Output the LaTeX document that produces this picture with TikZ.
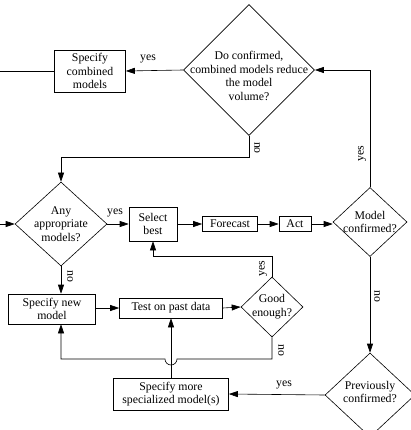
\documentclass[tikz,border=0pt]{standalone}
\usepackage{fontspec}
\setmainfont{Liberation Serif}
\usetikzlibrary{arrows.meta, positioning, shapes.geometric}
\tikzset{
	process/.style={rectangle, draw, line width=0.6pt, align=center, inner sep=0pt},
	decision/.style={diamond, draw, line width=0.6pt, inner sep=0pt},
	qtext/.style={align=center, inner sep=0pt},
	tag/.style={inner sep=0pt},
	arrow/.style={-{Triangle[length=9pt, width=6pt]}, line width=0.6pt},
	link/.style={line width=0.6pt},
}

\begin{document}
\begin{tikzpicture}[x=1pt, y=-1pt, font=\fontsize{11.8}{13.8}\selectfont]
		\useasboundingbox (0,0) rectangle (411,430);
		\clip (0,0) rectangle (411,430);
		% boxes
		\node[process, minimum width=71pt, minimum height=42pt] (combined) at (90,71) {Specify\\combined\\models};
		\node[process, minimum width=48pt, minimum height=34pt] (best) at (153,224) {Select\\best};
		\node[process, minimum width=55pt, minimum height=15pt] (forecast) at (230,224) {Forecast};
		\node[process, minimum width=32pt, minimum height=15pt] (act) at (295,224) {Act};
		\node[process, minimum width=87pt, minimum height=30pt] (newmodel) at (52,309) {Specify new\\model};
		\node[process, minimum width=103pt, minimum height=20pt] (test) at (171,308) {Test on past data};
		\node[process, minimum width=115pt, minimum height=32pt] (special) at (171,394) {Specify more\\specialized model(s)};
		% decisions
		\node[decision, minimum width=131pt, minimum height=131pt] (reduce) at (249,70) {};
		\node[qtext] (reducetext) at ([yshift=-6pt]reduce.center) {Do confirmed,\\combined models reduce\\the model\\volume?};
		\node[decision, minimum width=92pt, minimum height=84pt] (anymodels) at (61,224) {};
		\node[qtext] (anytext) at (anymodels) {Any\\appropriate\\models?};
		\node[decision, minimum width=74pt, minimum height=69pt] (confirmed) at (370,222) {};
		\node[qtext] (confirmedtext) at (confirmed) {Model\\confirmed?};
		\node[decision, minimum width=62pt, minimum height=60pt] (good) at (272,307) {};
		\node[qtext] (goodtext) at (good) {Good\\enough?};
		\node[decision, minimum width=90pt, minimum height=84pt] (previous) at (370,395) {};
		\node[qtext] (previoustext) at ([yshift=3pt]previous.center) {Previously\\confirmed?};
		% free ends and bends
		\coordinate (exitleft) at (0,71);
		\coordinate (entryleft) at (0,224);
		\coordinate (noturn) at (249,157);
		\coordinate (noreturn) at (61,157);
		\coordinate (yesturn) at (272,256);
		\coordinate (retry) at (272,359);
		\coordinate (hopright) at (177,359);
		\coordinate (hopleft) at (165,359);
		% connectors
		\draw[link] (combined) -- (exitleft);
		\draw[arrow] (reduce.west) -- (combined.east);
		\draw[arrow] (confirmed.north) |- (reduce.east);
		\draw[arrow] (reduce.south) |- (noreturn) -- (anymodels.north);
		\draw[arrow] (entryleft) -- (anymodels.west);
		\draw[arrow] (anymodels.east) -- (best.west);
		\draw[arrow] (best) -- (forecast);
		\draw[arrow] (forecast) -- (act);
		\draw[arrow] (act) -- (act -| confirmed.west);
		\draw[arrow] (anymodels.south) -- (anymodels.south |- newmodel.north);
		\draw[arrow] (newmodel.east |- test) -- (test.west);
		\draw[arrow] (test.east) -- (good.west);
		\draw[arrow] (good.north) -- (yesturn) -| (best.south);
		\draw[arrow] (good.south) -- (retry) -- (hopright) arc[start angle=0, end angle=-180, radius=6pt] -- (hopleft) -| (newmodel.south -| noreturn);
		\draw[arrow] (special.north) -- (test.south);
		\draw[arrow] (confirmed.south) -- (previous.north);
		\draw[arrow] (previous.west) -- (special.east);
		% labels
		\node[tag] (yesreduce) at (148,59) {yes};
		\node[tag, rotate=90] (yesconfirmed) at (362,154) {yes};
		\node[tag, rotate=-90] (noreduce) at (257,148) {no};
		\node[tag] (yesany) at (115,213) {yes};
		\node[tag, rotate=-90] (noany) at (70,276) {no};
		\node[tag, rotate=90] (yesgood) at (263,269) {yes};
		\node[tag, rotate=-90] (nogood) at (281,350) {no};
		\node[tag, rotate=-90] (noconfirmed) at (377,296) {no};
		\node[tag] (yesprevious) at (284,385) {yes};
	\end{tikzpicture}
\end{document}
